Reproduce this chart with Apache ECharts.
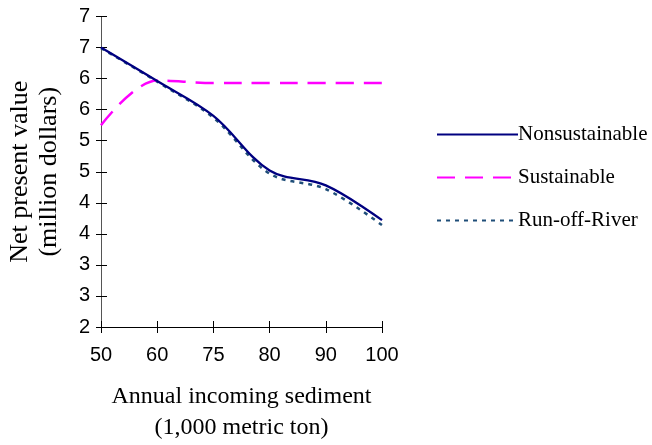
<!DOCTYPE html>
<html><head><meta charset="utf-8">
<script src="https://cdn.jsdelivr.net/npm/echarts@6/dist/echarts.min.js"></script>
<style>html,body{margin:0;padding:0;background:#fff}#c{width:652px;height:445px}</style>
</head><body><div id="c"></div>
<script>
const categories = ['50','60','75','80','90','100'];
const nonsustainable = [6.5, 5.96, 5.40, 4.52, 4.28, 3.72];
const sustainable = [5.25, 5.97, 5.93, 5.93, 5.93, 5.93];
const runOffRiver = [6.49, 5.95, 5.37, 4.47, 4.22, 3.64];
const yTickLabels = ['2','3','3','4','4','5','5','6','6','7','7'];

const chart = echarts.init(document.getElementById('c'), null, {renderer:'canvas'});
const axisCol = '#000';
chart.setOption({
  animation:false,
  grid:{left:101,right:270,top:16.5,bottom:118, outerBoundsMode:'none', containLabel:false},
  legend:{
    orient:'vertical', left:431, top:118, itemWidth:81, itemHeight:14, itemGap:20,
    itemStyle:{color:'transparent', borderWidth:0, opacity:0},
    textStyle:{fontFamily:'Liberation Serif', fontSize:21, lineHeight:23, color:'#000', padding:[0,0,0,-5]},
    data:['Nonsustainable','Sustainable','Run-off-River']
  },
  xAxis:[{
    type:'category', data:categories, boundaryGap:false,
    axisLine:{lineStyle:{color:axisCol,width:1}},
    axisTick:{length:6,lineStyle:{color:axisCol}},
    axisLabel:{fontFamily:'Liberation Sans', fontSize:20, color:'#000', margin:18},
    name:'Annual incoming sediment\n(1,000 metric ton)', nameLocation:'middle', nameGap:54,
    nameTextStyle:{fontFamily:'Liberation Serif', fontSize:24, color:'#000', lineHeight:31}
  },{
    type:'category', data:categories, boundaryGap:false, position:'bottom',
    axisLine:{show:false}, axisLabel:{show:false},
    axisTick:{inside:true,length:6,lineStyle:{color:axisCol}}
  }],
  yAxis:[{
    type:'value', min:2, max:7, interval:0.5,
    splitLine:{show:false},
    axisLine:{show:true,lineStyle:{color:'#555',width:1}},
    axisTick:{show:true,length:5,lineStyle:{color:axisCol}},
    axisLabel:{fontFamily:'Liberation Sans', fontSize:20, color:'#000', margin:11,
      formatter:(v)=>yTickLabels[Math.round((v-2)/0.5)]},
    name:'Net present value\n(million dollars)', nameLocation:'middle', nameGap:37,
    nameTextStyle:{fontFamily:'Liberation Serif', fontSize:26, color:'#000', lineHeight:29}
  },{
    type:'value', min:2, max:7, interval:0.5, position:'left',
    splitLine:{show:false}, axisLine:{show:false}, axisLabel:{show:false},
    axisTick:{show:true,inside:true,length:6,lineStyle:{color:axisCol}}
  }],
  series:[
    {name:'Run-off-River', type:'line', data:runOffRiver, smooth:0.35, symbol:'none',
     lineStyle:{color:'#1f4e79', width:2.5, type:[4,5]}, itemStyle:{color:'#1f4e79'}},
    {name:'Sustainable', type:'line', data:sustainable, smooth:0.35, symbol:'none',
     lineStyle:{color:'#ff00ff', width:2.5, type:[18,10]}, itemStyle:{color:'#ff00ff'}},
    {name:'Nonsustainable', type:'line', data:nonsustainable, smooth:0.35, symbol:'none',
     lineStyle:{color:'#000080', width:2.3}, itemStyle:{color:'#000080'}}
  ]
});
</script></body></html>
